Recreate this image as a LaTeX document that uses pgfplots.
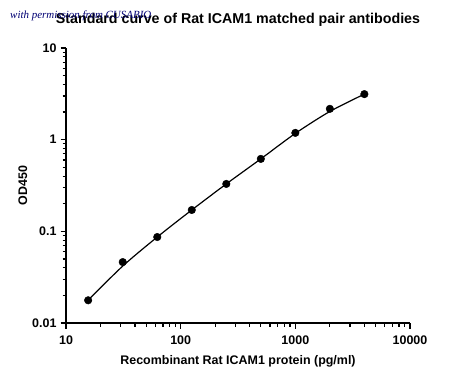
\documentclass[border=0pt]{standalone}
\usepackage{pgfplots}
\pgfplotsset{compat=1.18}
\usepackage{fontspec}
\setmainfont{Liberation Sans}
\newfontfamily\wmfont{Liberation Serif}
\begin{document}
\begin{tikzpicture}[x=1bp,y=1bp]
\path[use as bounding box] (0,0) rectangle (450,381);
\begin{axis}[
  at={(66bp,58bp)}, anchor=south west,
  scale only axis, width=344bp, height=275bp,
  xmode=log, ymode=log,
  xmin=10, xmax=10000, ymin=0.01, ymax=10,
  axis x line*=bottom, axis y line*=left,
  axis line style={line width=1.6bp},
  tick align=outside,
  major tick length=5.5bp, minor tick length=3.5bp,
  every tick/.style={black, line width=1.2bp},
  xtick={10,100,1000,10000}, xticklabels={10,100,1000,10000},
  ytick={0.01,0.1,1,10}, yticklabels={0.01,0.1,1,10},
  minor xtick={20,30,40,50,60,70,80,90,200,300,400,500,600,700,800,900,2000,3000,4000,5000,6000,7000,8000,9000},
  minor ytick={0.02,0.03,0.04,0.05,0.06,0.07,0.08,0.09,0.2,0.3,0.4,0.5,0.6,0.7,0.8,0.9,2,3,4,5,6,7,8,9},
  /pgf/number format/assume math mode=true,
  tick label style={font=\bfseries\fontsize{12.5}{14}\selectfont},
  xticklabel style={yshift=-4bp},
  yticklabel style={xshift=-0.5bp},
  xlabel={Recombinant Rat ICAM1 protein (pg/ml)},
  ylabel={OD450},
  label style={font=\bfseries\fontsize{12.5}{14}\selectfont},
  xlabel style={at={(0.5,0)}, anchor=base, yshift=-41bp},
  ylabel style={at={(0,0.5)}, anchor=base, rotate=0, xshift=0bp, yshift=39bp},
  title={Standard curve of Rat ICAM1 matched pair antibodies},
  title style={font=\bfseries\fontsize{14.3}{16}\selectfont, at={(0.5,1)}, anchor=base, yshift=19bp},
  clip=false,
]
\addplot[black, line width=1.2bp, smooth, no marks] coordinates {
  (15.6,0.01774) (31.25,0.0418) (62.5,0.0867) (125,0.171) (250,0.329)
  (500,0.617) (1000,1.17) (2000,2.03) (4000,3.14)
};
\addplot[only marks, mark=*, mark size=3.8bp, black] coordinates {
  (15.6,0.0177) (31.25,0.0462) (62.5,0.0867) (125,0.171) (250,0.329)
  (500,0.617) (1000,1.186) (2000,2.17) (4000,3.14)
};
\end{axis}
\node[anchor=west, inner sep=0pt, text=blue!45!black] at (10,365)
  {\wmfont\itshape\fontsize{11}{13}\selectfont with permission from CUSABIO};
\end{tikzpicture}
\end{document}
